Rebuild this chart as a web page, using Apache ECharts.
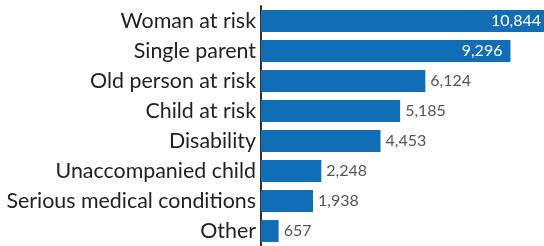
<!DOCTYPE html>
<html>
<head>
<meta charset="utf-8">
<script src="https://cdn.jsdelivr.net/npm/echarts@6/dist/echarts.min.js"></script>
<style>
  html, body { margin: 0; padding: 0; background: #fff; overflow: hidden; }
  /* the reference crops the longest bar at the right edge */
  #main { width: 552px; height: 246px; }
</style>
</head>
<body>
<div id="main"></div>
<script>
// categories, top to bottom
var categories = [
  "Woman at risk",
  "Single parent",
  "Old person at risk",
  "Child at risk",
  "Disability",
  "Unaccompanied child",
  "Serious medical conditions",
  "Other"
];
var values = [10844, 9296, 6124, 5185, 4453, 2248, 1938, 657];
// bars big enough to carry their label inside
var insideCount = 2;

var myChart = echarts.init(document.getElementById("main"));

var data = values.map(function (v, i) {
  var inside = i < insideCount;
  return {
    value: v,
    label: {
      position: inside ? "insideRight" : "right",
      distance: inside ? (i === 0 ? 11 : 8) : 5,
      color: inside ? "#ffffff" : "#555555"
    }
  };
});

var option = {
  animation: false,
  grid: {
    left: 261,
    right: 0,
    top: 6,
    bottom: -3,
    containLabel: false
  },
  xAxis: {
    type: "value",
    min: 0,
    max: 10844,
    show: false
  },
  yAxis: {
    type: "category",
    inverse: true,
    data: categories,
    axisLine: { show: true, lineStyle: { color: "#333333", width: 2 } },
    axisTick: { show: false },
    axisLabel: {
      margin: 5,
      fontFamily: "Lato",
      fontSize: 21.4,
      color: "#222222"
    }
  },
  series: [
    {
      type: "bar",
      data: data,
      barCategoryGap: "27%",
      itemStyle: { color: "#116db5" },
      label: {
        show: true,
        fontFamily: "Lato",
        fontSize: 16,
        formatter: function (p) {
          return p.value.toLocaleString("en-US");
        }
      }
    }
  ]
};

myChart.setOption(option);
</script>
</body>
</html>
